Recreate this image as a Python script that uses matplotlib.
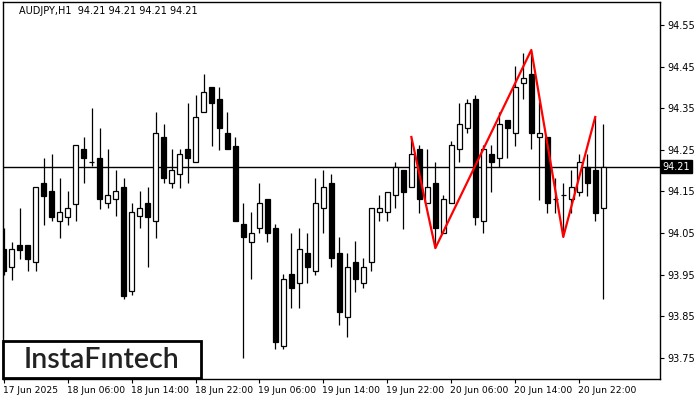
import matplotlib
matplotlib.use('Agg')
import matplotlib.pyplot as plt
import matplotlib.transforms as mtrans
from matplotlib.patches import Rectangle
import numpy as np

# ── Dati AUDJPY H1 ───────────────────────────────────────────────────────
opens = [94.012, 93.969, 94.021, 94.021, 93.981, 94.170, 94.151, 94.079, 94.089, 94.120,
         94.252, 94.221, 94.230, 94.122, 94.132, 94.161, 93.911, 94.091, 94.122, 94.079,
         94.281, 94.170, 94.192, 94.252, 94.221, 94.341, 94.401, 94.372, 94.291, 94.259,
         94.072, 94.029, 94.062, 94.132, 94.062, 93.779, 93.952, 93.930, 94.002, 93.959,
         94.110, 94.170, 94.002, 93.849, 93.981, 93.930, 93.981, 94.101, 94.101, 94.142,
         94.202, 94.161, 94.252, 94.122, 94.170, 94.050, 94.122, 94.252, 94.303, 94.372,
         94.079, 94.240, 94.230, 94.322, 94.291, 94.411, 94.432, 94.281, 94.281, 94.132,
         94.142, 94.132, 94.149, 94.209, 94.202, 94.110]
highs = [94.062, 94.029, 94.110, 94.021, 94.161, 94.230, 94.240, 94.182, 94.151, 94.262,
         94.281, 94.351, 94.303, 94.252, 94.202, 94.182, 94.122, 94.151, 94.161, 94.341,
         94.312, 94.252, 94.252, 94.363, 94.382, 94.432, 94.401, 94.401, 94.341, 94.281,
         94.122, 94.101, 94.170, 94.132, 94.072, 93.952, 94.050, 94.062, 94.050, 94.182,
         94.202, 94.192, 94.041, 94.002, 94.031, 93.990, 94.110, 94.142, 94.149, 94.221,
         94.202, 94.281, 94.262, 94.252, 94.221, 94.142, 94.271, 94.363, 94.372, 94.382,
         94.262, 94.262, 94.341, 94.322, 94.452, 94.483, 94.490, 94.365, 94.281, 94.182,
         94.170, 94.202, 94.240, 94.240, 94.329, 94.312]
lows = [93.949, 93.937, 93.988, 93.959, 93.959, 94.070, 94.079, 94.038, 94.070, 94.079,
        94.170, 94.211, 94.108, 94.110, 94.091, 93.892, 93.901, 94.062, 93.969, 94.038,
        94.170, 94.158, 94.158, 94.170, 94.221, 94.341, 94.259, 94.250, 94.252, 94.079,
        93.750, 93.940, 94.050, 94.029, 93.772, 93.772, 93.870, 93.870, 93.930, 93.949,
        94.050, 93.969, 93.829, 93.800, 93.909, 93.918, 93.959, 94.079, 94.079, 94.110,
        94.060, 94.161, 94.098, 94.122, 94.014, 94.050, 94.122, 94.221, 94.291, 94.070,
        94.050, 94.149, 94.209, 94.230, 94.259, 94.372, 94.252, 94.130, 94.098, 94.098,
        94.041, 94.098, 94.139, 94.139, 94.079, 93.892]
closes = [93.959, 94.012, 94.009, 93.988, 94.161, 94.139, 94.089, 94.101, 94.110, 94.262,
          94.230, 94.221, 94.132, 94.142, 94.151, 93.899, 94.101, 94.110, 94.089, 94.291,
          94.182, 94.202, 94.240, 94.230, 94.329, 94.389, 94.363, 94.303, 94.252, 94.079,
          94.041, 94.050, 94.122, 94.050, 93.788, 93.940, 93.918, 94.012, 93.969, 94.122,
          94.161, 93.990, 93.861, 93.969, 93.940, 93.969, 94.110, 94.110, 94.149, 94.209,
          94.149, 94.240, 94.132, 94.161, 94.062, 94.132, 94.262, 94.312, 94.363, 94.089,
          94.252, 94.221, 94.312, 94.303, 94.401, 94.423, 94.291, 94.291, 94.122, 94.132,
          94.142, 94.161, 94.221, 94.170, 94.098, 94.210]

# pattern (zigzag rosso)
pattern_idx = [51, 54, 66, 70, 74]
pattern_px = [94.281, 94.014, 94.490, 94.041, 94.329]

last_price = 94.21
title = 'AUDJPY,H1  94.21 94.21 94.21 94.21'
tick_idx = [0, 8, 16, 24, 32, 40, 48, 56, 64, 72]
tick_labels = ['17 Jun 2025', '18 Jun 06:00', '18 Jun 14:00', '18 Jun 22:00',
               '19 Jun 06:00', '19 Jun 14:00', '19 Jun 22:00', '20 Jun 06:00',
               '20 Jun 14:00', '20 Jun 22:00']
price_ticks = [94.55, 94.45, 94.35, 94.25, 94.15, 94.05, 93.95, 93.85, 93.75]

# ── Grafico ──────────────────────────────────────────────────────────────
W, H = 700, 400
fig = plt.figure(figsize=(7, 4), dpi=100)
ax = fig.add_axes([3 / W, 1 - 379 / H, 657 / W, 376.7 / H])

o, h, l, c = map(np.array, (opens, highs, lows, closes))
x = np.arange(len(o))
up = c >= o

ax.vlines(x, l, h, color='black', lw=0.9, zorder=2)
bottom = np.minimum(o, c)
height = np.maximum(np.abs(c - o), 0.0005)
ax.bar(x, height, bottom=bottom, width=0.62,
       color=np.where(up, 'white', 'black'), edgecolor='black', lw=0.9, zorder=3)

ax.axhline(last_price, color='black', lw=1, zorder=1)
ax.plot(pattern_idx, pattern_px, color='red', lw=1.6, zorder=4)

ax.yaxis.tick_right()
ax.set_yticks(price_ticks)
ax.set_yticklabels([f'{p:.2f}' for p in price_ticks], fontsize=7)
ax.set_xticks(tick_idx)
ax.set_xticklabels(tick_labels, fontsize=6.6, ha='left')
ax.tick_params(axis='both', length=3, width=0.8, pad=2, direction='out')
ax.set_xlim(-0.08, 82.1)
ax.set_ylim(93.6995, 94.6045)
for s in ax.spines.values():
    s.set_linewidth(1)

off = mtrans.ScaledTranslation(-1 / 100, 0, fig.dpi_scale_trans)
for lab in ax.get_xticklabels():
    lab.set_transform(lab.get_transform() + off)

# etichetta prezzo corrente
ax.text(1.004, last_price, f'{last_price:.2f}', transform=ax.get_yaxis_transform(),
        fontsize=7, color='white', va='center', ha='left',
        bbox=dict(boxstyle='square,pad=0.15', fc='black', ec='black'), zorder=5, clip_on=False)

fig.text(19 / W, 1 - 11 / H, title, fontsize=7, va='center', ha='left')

# logo
fig.add_artist(Rectangle((3 / W, 1 - 378 / H), 198 / W, 37 / H, transform=fig.transFigure,
                         fc='white', ec='black', lw=2, zorder=10))
fig.text(102 / W, 1 - 360 / H, 'InstaF\u0131ntech', fontsize=20.5, family='Lato',
         weight='semibold', color='#222222', ha='center', va='center', zorder=11)

fig.savefig('out.png', dpi=100)
